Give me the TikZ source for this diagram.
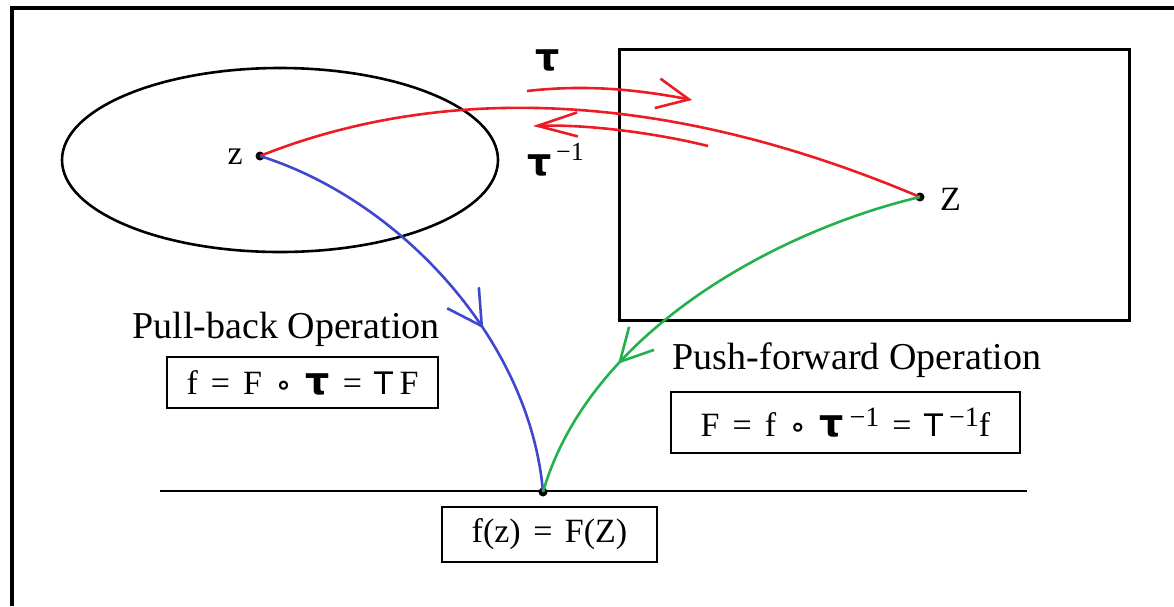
\documentclass[tikz,border=0pt]{standalone}
\usepackage{fontspec}
\setmainfont{Liberation Serif}
\newfontfamily\symf{DejaVu Sans}
\usetikzlibrary{arrows.meta,decorations.markings}
\definecolor{cred}{RGB}{236,28,36}
\definecolor{cblue}{RGB}{63,72,204}
\definecolor{cgreen}{RGB}{34,177,76}
\tikzset{
  txt/.style={inner sep=0pt,font=\fontsize{38}{42}\selectfont},
  lbl/.style={inner sep=0pt,font=\fontsize{34}{38}\selectfont},
  formbox/.style={draw,line width=2.5pt,inner sep=0pt,font=\fontsize{34}{36}\selectfont},
  dot/.style={circle,fill,inner sep=0pt,minimum size=9pt},
  curve/.style={line width=2.6pt},
  tautxt/.style={inner sep=0pt,font=\symf\bfseries\fontsize{38}{40}\selectfont},
}
\newcommand{\tausym}{{\symf\bfseries\fontsize{38}{38}\selectfont τ}}
\newcommand{\circsym}{{\symf\bfseries\fontsize{28}{28}\selectfont ∘}}
\newcommand{\Tsym}{{\symf\fontsize{31}{31}\selectfont T}}
\newcommand{\gap}{\hspace{13pt}}
\begin{document}
\begin{tikzpicture}[x=1pt,y=-1pt]
\useasboundingbox (0,0) rectangle (1174,606);
% outer frame
\draw[line width=4pt] (12,606) -- (12,8) -- (1174,8);
% ellipse and rectangle
\draw[line width=2.6pt] (280,160) ellipse [x radius=218, y radius=92];
\draw[line width=3pt] (619,49) rectangle (1129,320);
% points
\node[dot] (z) at (260,156) {};
\node[dot] (Z) at (920,197) {};
\node[dot] (w) at (543,492) {};
\node[lbl,anchor=east] (zl) at (243,157) {z};
\node[lbl,anchor=west] (Zl) at (940,199) {Z};
% base line
\coordinate (hl) at (160,491);
\coordinate (hr) at (1027,491);
\draw[line width=2.5pt] (hl) -- (hr);
% red curve
\draw[curve,cred] (z.center) .. controls (400,100) and (620,70) .. (Z.center);
% tau arrows
\coordinate (t1s) at (527,91);
\coordinate (t1e) at (692,100);
\draw[curve,cred,-{Straight Barb[length=32pt,width=30pt,line width=2.6pt]}] (t1s) .. controls (580,85) and (630,88) .. (t1e);
\coordinate (t2s) at (708,146);
\coordinate (t2e) at (533,126);
\draw[curve,cred,-{Straight Barb[length=40pt,width=24pt,line width=2.6pt]}] (t2s) .. controls (660,134) and (590,124) .. (t2e);
\node[tautxt] (tau) at (548,60) {τ};
\node[tautxt] (taui) at (540,165) {τ};
\node[inner sep=0pt,anchor=west,font=\fontsize{26}{28}\selectfont] (taiexp) at (556,152) {−1};
% blue curve
\draw[curve,cblue,postaction={decorate},decoration={markings,mark=at position 0.62 with {\arrow[line width=2.6pt]{Straight Barb[length=34pt,width=38pt]}}}]
  (z.center) .. controls (400,200) and (530,340) .. (w.center);
% green curve
\draw[curve,cgreen,postaction={decorate},decoration={markings,mark=at position 0.7 with {\arrow[line width=2.6pt]{Straight Barb[length=32pt,width=34pt]}}}]
  (Z.center) .. controls (780,230) and (590,330) .. (w.center);
% labels
\node[txt] (pb) at (286,329) {Pull-back Operation};
\node[formbox,minimum width=271pt,minimum height=51pt] (pbf) at (302.5,382.5) {f\gap=\gap F\gap\circsym\gap\tausym\gap=\gap\Tsym\,F};
\node[txt] (pf) at (857,360) {Push-forward Operation};
\node[formbox,minimum width=349pt,minimum height=61pt] (pff) at (845.5,422.5) {F\gap=\gap f\gap\circsym\gap\tausym\,{\fontsize{28}{28}\selectfont\raisebox{10pt}{−1}}\gap=\gap\Tsym\,{\fontsize{28}{28}\selectfont\raisebox{10pt}{−1}}f};
\node[formbox,minimum width=215pt,minimum height=55pt,font=\fontsize{34}{38}\selectfont] (eq) at (549.5,534.5) {f(z)\hspace{4pt} = \hspace{4pt}F(Z)};
\end{tikzpicture}
\end{document}
